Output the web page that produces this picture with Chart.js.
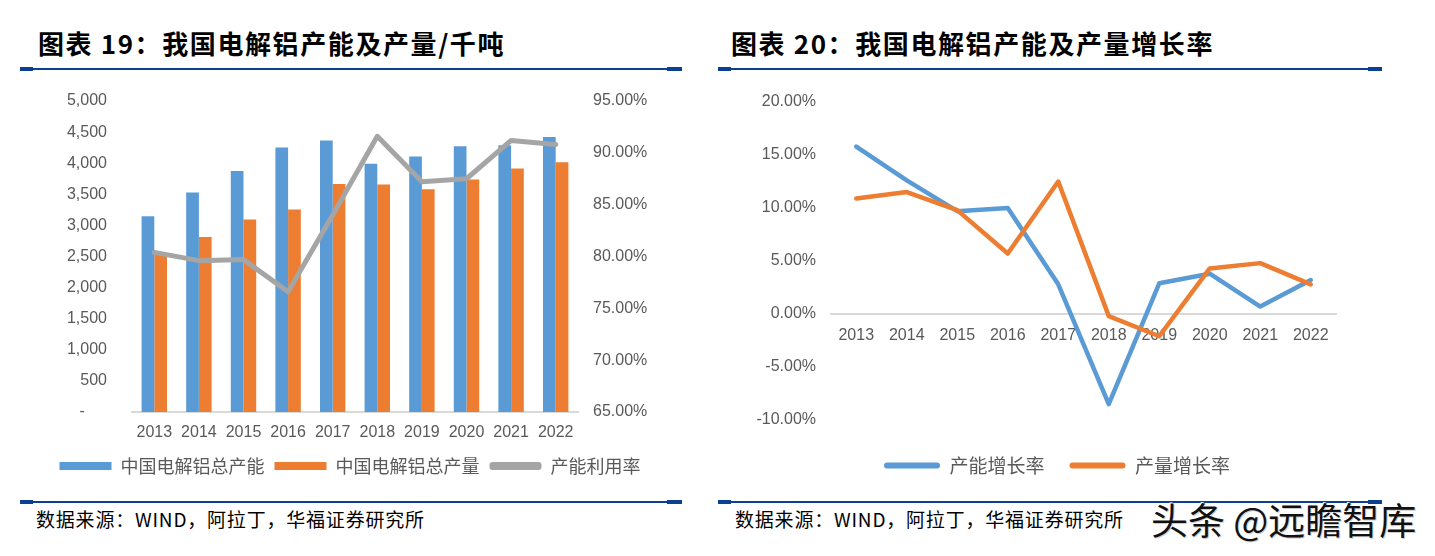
<!DOCTYPE html>
<html>
<head>
<meta charset="utf-8">
<script src="https://cdn.jsdelivr.net/npm/chart.js@4.4.1/dist/chart.umd.min.js"></script>
<style>
  body { margin: 0; background: #fff; width: 1435px; height: 556px; overflow: hidden; position: relative;
         font-family: "Noto Sans CJK SC", sans-serif; }
  .title { position: absolute; top: 25px; font-size: 26px; font-weight: 700; color: #000;
           letter-spacing: 1.6px; white-space: nowrap; line-height: 36px; }
  .rule { position: absolute; height: 2px; background: #0b3f91; }
  .cap { position: absolute; height: 4px; background: #0b3f91; }
  .src { position: absolute; top: 507px; font-size: 19px; color: #000; white-space: nowrap; line-height: 24px;
         letter-spacing: 0.8px; }
  .box { position: absolute; top: 85px; }
  .mark { position: absolute; left: 1151px; top: 497px; font-size: 37px; color: #111; white-space: nowrap;
          line-height: 44px; text-shadow: -1px -1px 0 #fff, 1px 1px 0 #ccc; }
</style>
</head>
<body>
<div class="title" style="left:38px">图表 19：我国电解铝产能及产量/千吨</div>
<div class="rule" style="left:20px;width:662px;top:68px"></div>
<div class="cap" style="left:20px;width:13px;top:67px"></div>
<div class="cap" style="left:667px;width:15px;top:67px"></div>

<div class="title" style="left:731px">图表 20：我国电解铝产能及产量增长率</div>
<div class="rule" style="left:718px;width:664px;top:68px"></div>
<div class="cap" style="left:718px;width:13px;top:67px"></div>
<div class="cap" style="left:1368px;width:14px;top:67px"></div>

<div class="box" style="left:0px"><canvas id="c1" width="700" height="400"></canvas></div>
<div class="box" style="left:710px"><canvas id="c2" width="694" height="400"></canvas></div>

<div class="rule" style="left:20px;width:662px;top:501px"></div>
<div class="cap" style="left:20px;width:13px;top:500px"></div>
<div class="cap" style="left:667px;width:15px;top:500px"></div>
<div class="rule" style="left:718px;width:664px;top:501px"></div>
<div class="cap" style="left:718px;width:13px;top:500px"></div>
<div class="cap" style="left:1368px;width:14px;top:500px"></div>

<div class="src" style="left:36px">数据来源：WIND，阿拉丁，华福证券研究所</div>
<div class="src" style="left:735px">数据来源：WIND，阿拉丁，华福证券研究所</div>
<div class="mark">头条 @远瞻智库</div>

<script>
const years = ['2013', '2014', '2015', '2016', '2017', '2018', '2019', '2020', '2021', '2022'];
// 千吨
const capacity = [3146, 3527, 3875, 4251, 4363, 3993, 4106, 4272, 4288, 4421];
const output = [2530, 2814, 3093, 3254, 3666, 3656, 3580, 3736, 3913, 4014];
// %
const utilization = [80.4, 79.6, 79.7, 76.6, 84.0, 91.6, 87.2, 87.5, 91.2, 90.8];
const capacityGrowth = [15.8, 12.6, 9.7, 10.0, 2.8, -8.5, 2.9, 3.8, 0.7, 3.2];
const outputGrowth = [10.9, 11.5, 9.8, 5.7, 12.5, -0.2, -2.1, 4.3, 4.8, 2.8];

const BLUE = '#5B9BD5', ORANGE = '#ED7D31', GRAY = '#A5A5A5', TXT = '#595959', AXIS = '#D9D9D9';

Chart.defaults.font.family = '"Liberation Sans", Arial, sans-serif';
Chart.defaults.color = TXT;
Chart.defaults.animation = false;

const tickFont = { size: 16 };
const legendFont = { size: 18, family: '"Noto Sans CJK SC", sans-serif' };
const noGrid = { display: false, drawTicks: false };

// keep tick padding from pushing the plot area down
function fixWidth(w) {
    return s => { s.width = w; s.paddingTop = 0; s.paddingBottom = 0; };
}

function legendItems(chart, radius) {
    return chart.data.datasets.map((ds, i) => {
        const isLine = ds.type === 'line' || chart.config.type === 'line';
        return {
            text: ds.label,
            fillStyle: isLine ? ds.borderColor : ds.backgroundColor,
            strokeStyle: 'rgba(0,0,0,0)',
            lineWidth: 0,
            hidden: false,
            datasetIndex: i,
            fontColor: TXT,
            borderRadius: isLine ? radius : 0
        };
    });
}

// 图表19
new Chart(document.getElementById('c1'), {
    type: 'bar',
    data: {
        labels: years,
        datasets: [
            { label: '中国电解铝总产能', data: capacity, backgroundColor: BLUE, yAxisID: 'y',
              categoryPercentage: 0.57, barPercentage: 1, order: 1 },
            { label: '中国电解铝总产量', data: output, backgroundColor: ORANGE, yAxisID: 'y',
              categoryPercentage: 0.57, barPercentage: 1, order: 1 },
            { type: 'line', label: '产能利用率', data: utilization, borderColor: GRAY, backgroundColor: GRAY,
              borderWidth: 5, pointRadius: 0, yAxisID: 'y1', order: 0,
              borderJoinStyle: 'round', borderCapStyle: 'round' }
        ]
    },
    options: {
        responsive: false,
        devicePixelRatio: 1,
        layout: { padding: { top: 16, left: 0, right: 0, bottom: 0 } },
        scales: {
            x: {
                grid: noGrid,
                border: { color: AXIS, width: 2 },
                ticks: { font: tickFont, padding: 11, maxRotation: 0, autoSkip: false },
                afterFit: s => { s.height = 35; }
            },
            y: {
                position: 'left',
                min: 0, max: 5000,
                grid: noGrid,
                border: { display: false },
                ticks: {
                    stepSize: 500, font: tickFont, padding: 25,
                    callback: v => v === 0 ? '-     ' : v.toLocaleString('en-US')
                },
                afterFit: fixWidth(132)
            },
            y1: {
                position: 'right',
                min: 65, max: 95,
                grid: noGrid,
                border: { display: false },
                ticks: { stepSize: 5, font: tickFont, padding: 15, callback: v => v.toFixed(2) + '%' },
                afterFit: fixWidth(122)
            }
        },
        plugins: {
            tooltip: { enabled: false },
            legend: {
                position: 'bottom',
                labels: {
                    boxWidth: 52, boxHeight: 8, padding: 10, color: TXT, font: legendFont,
                    useBorderRadius: true,
                    sort: (a, b) => a.datasetIndex - b.datasetIndex,
                    generateLabels: chart => legendItems(chart, 3)
                }
            }
        }
    }
});

// 图表20
new Chart(document.getElementById('c2'), {
    type: 'line',
    data: {
        labels: years,
        datasets: [
            { label: '产能增长率', data: capacityGrowth, borderColor: BLUE, backgroundColor: BLUE,
              borderWidth: 4.5, pointRadius: 0, order: 1, borderJoinStyle: 'round', borderCapStyle: 'round' },
            { label: '产量增长率', data: outputGrowth, borderColor: ORANGE, backgroundColor: ORANGE,
              borderWidth: 4.5, pointRadius: 0, order: 0, borderJoinStyle: 'round', borderCapStyle: 'round' }
        ]
    },
    options: {
        responsive: false,
        devicePixelRatio: 1,
        layout: { padding: { top: 17, left: 0, right: 0, bottom: 0 } },
        scales: {
            x: {
                position: { y: 0 },
                offset: true,
                grid: noGrid,
                border: { color: AXIS, width: 2 },
                ticks: { font: tickFont, padding: 12, maxRotation: 0, autoSkip: false }
            },
            gap: {
                type: 'category',
                position: 'bottom',
                grid: noGrid,
                border: { display: false },
                ticks: { display: false },
                afterFit: s => { s.height = 11; }
            },
            y: {
                position: 'left',
                min: -10, max: 20,
                grid: noGrid,
                border: { display: false },
                ticks: { stepSize: 5, font: tickFont, padding: 15, callback: v => v.toFixed(2) + '%' },
                afterFit: fixWidth(121)
            },
            side: {
                position: 'right',
                grid: noGrid,
                border: { display: false },
                ticks: { display: false },
                afterFit: fixWidth(68)
            }
        },
        plugins: {
            tooltip: { enabled: false },
            legend: {
                position: 'bottom',
                labels: {
                    boxWidth: 56, boxHeight: 6, padding: 25, color: TXT, font: { size: 19, family: legendFont.family },
                    useBorderRadius: true,
                    sort: (a, b) => a.datasetIndex - b.datasetIndex,
                    generateLabels: chart => legendItems(chart, 3)
                }
            }
        }
    }
});
</script>
</body>
</html>
